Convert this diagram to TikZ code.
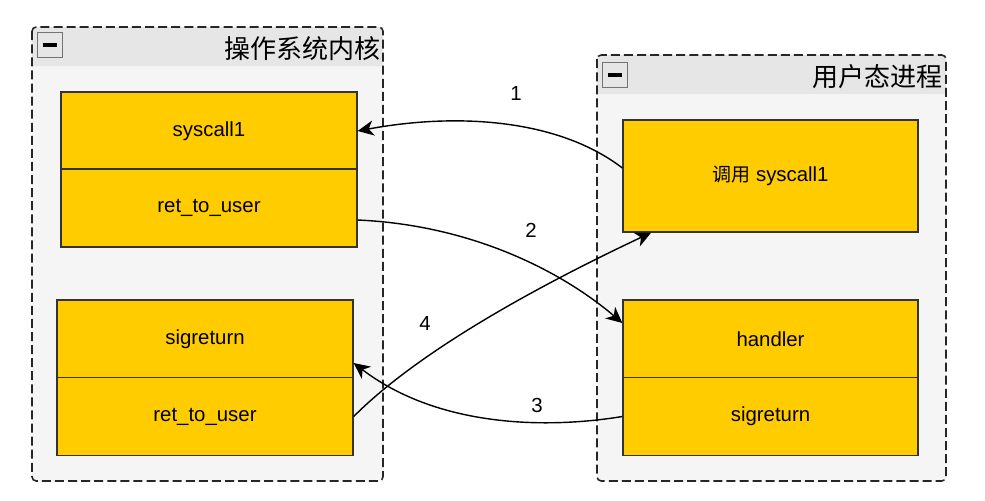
\documentclass[tikz,border=0pt]{standalone}
\usepackage{fontspec}
\setmainfont{Liberation Sans}
\newfontfamily\cjk{Noto Sans CJK SC}
\usetikzlibrary{arrows.meta}
\definecolor{boxyellow}{HTML}{FFCC00}
\definecolor{headgray}{HTML}{E6E6E6}
\definecolor{bodygray}{HTML}{F5F5F5}
\tikzset{
  frame/.style={draw=black!85,line width=1.1pt,dash pattern=on 6.4pt off 2.9pt,rounded corners=3pt},
  cell/.style={draw=black!80,fill=boxyellow,line width=0.9pt,minimum width=7.4cm,minimum height=1.95cm,inner sep=0pt,font=\fontsize{14.5}{17}\selectfont},
  minusbox/.style={draw=black!55,fill=headgray,line width=0.6pt,minimum size=0.62cm,inner sep=0pt},
  title/.style={anchor=east,inner sep=0pt,font=\cjk\fontsize{18.5}{21}\selectfont},
  num/.style={font=\fontsize{14.5}{17}\selectfont},
  flow/.style={line width=1pt,-{Stealth[length=0.4cm,width=0.38cm,inset=0.12cm]}}
}
\begin{document}
\begin{tikzpicture}[x=0.025cm,y=-0.025cm]
\useasboundingbox (0,0) rectangle (985,500);
% kernel side
\fill[bodygray,rounded corners=3pt] (32,27) rectangle (383,481);
\fill[headgray] (32,66) [rounded corners=3pt] -- (32,27) -- (383,27) [sharp corners] -- (383,66) -- cycle;
\draw[frame] (32,27) rectangle (383,481);
\node[minusbox] (kmin) at (50,45) {};
\draw[line width=2.2pt] ([xshift=-0.18cm]kmin.center) -- ([xshift=0.18cm]kmin.center);
\node[title] (ktitle) at (381,49) {操作系统内核};
% user side
\fill[bodygray,rounded corners=3pt] (597,55) rectangle (946,481);
\fill[headgray] (597,94) [rounded corners=3pt] -- (597,55) -- (946,55) [sharp corners] -- (946,94) -- cycle;
\draw[frame] (597,55) rectangle (946,481);
\node[minusbox] (umin) at (615,75) {};
\draw[line width=2.2pt] ([xshift=-0.18cm]umin.center) -- ([xshift=0.18cm]umin.center);
\node[title] (utitle) at (943,77) {用户态进程};
% cells
\node[cell] (sys1) at (209,131) {syscall1};
\node[cell] (ret1) at (209,208) {ret\_to\_user};
\node[cell] (ksig) at (205,339) {sigreturn};
\node[cell] (ret2) at (205,416.5) {ret\_to\_user};
\node[cell,minimum width=7.375cm,minimum height=2.8cm] (call) at (770.5,176) {{\cjk\fontsize{13.5}{16}\selectfont 调用} syscall1};
\node[cell,minimum width=7.375cm] (handler) at (770.5,339) {handler};
\node[cell,minimum width=7.375cm] (usig) at (770.5,416.5) {sigreturn};
% flows
\draw[flow] ([yshift=0.2cm]call.west) .. controls (560,120) and (460,112) .. (sys1.east);
\draw[flow] ([yshift=-0.3cm]ret1.east) .. controls (470,225) and (560,270) .. ([yshift=0.4cm]handler.west);
\draw[flow] (usig.west) .. controls (540,430) and (435,425) .. ([yshift=-0.6cm]ksig.east);
\draw[flow] (ret2.east) .. controls (420,350) and (540,285) .. ([xshift=0.72cm]call.south west);
\node[num] (n1) at (516,93) {1};
\node[num] (n2) at (531,230) {2};
\node[num] (n3) at (537,405) {3};
\node[num] (n4) at (425,323) {4};
\end{tikzpicture}
\end{document}
